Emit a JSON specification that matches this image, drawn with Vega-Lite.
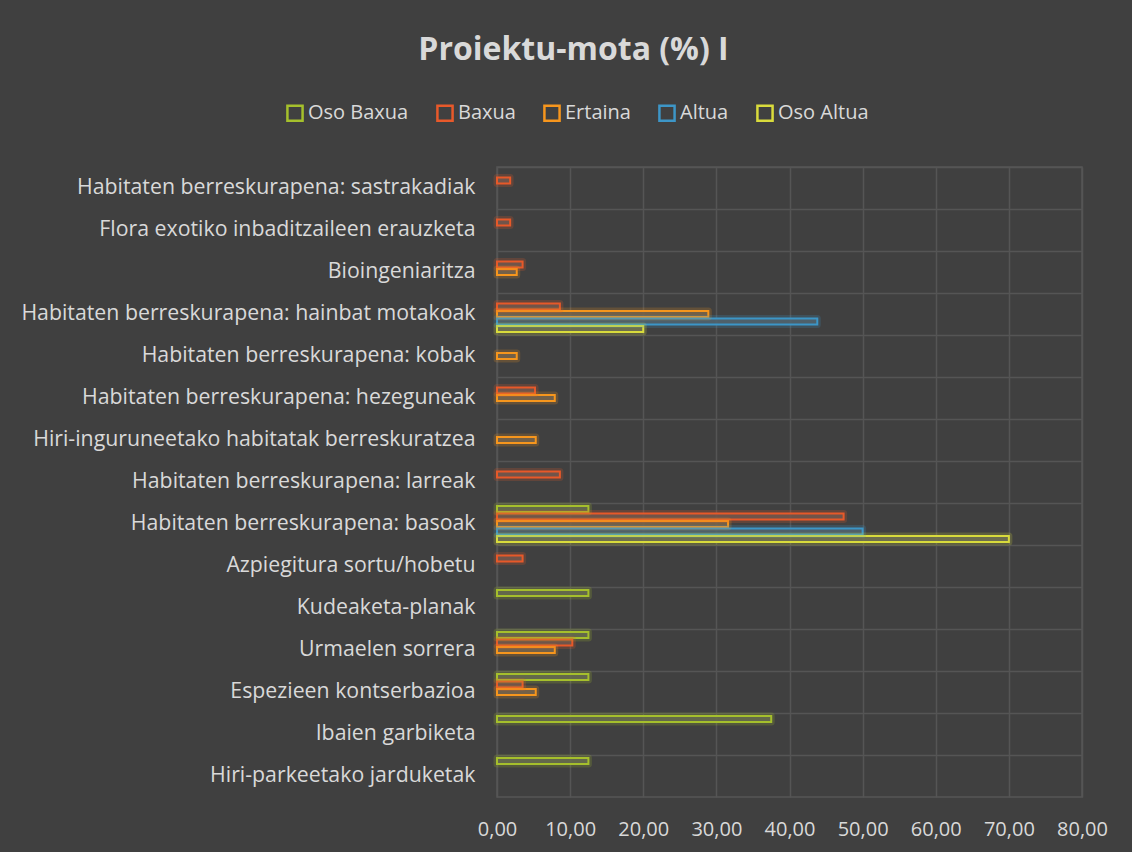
{
  "$schema": "https://vega.github.io/schema/vega-lite/v6.json",
  "width": 585,
  "height": 630,
  "autosize": {"type": "none"},
  "padding": {"left": 497, "top": 167, "right": 50, "bottom": 55},
  "background": "#404040",
  "title": {
    "text": "Proiektu-mota (%) I",
    "fontSize": 32,
    "font": "Open Sans",
    "fontWeight": "bold",
    "color": "#d9d9d9",
    "anchor": "middle",
    "dx": -216,
    "offset": 36
  },
  "config": {
    "locale": {"number": {"decimal": ",", "thousands": ".", "grouping": [3], "currency": ["", " €"]}},
    "view": {"stroke": "#555555", "strokeWidth": 1.5},
    "font": "Open Sans"
  },
  "data": {
    "values": [
      {"kategoria": "Habitaten berreskurapena: sastrakadiak", "maila": "Baxua", "balioa": 1.8},
      {"kategoria": "Flora exotiko inbaditzaileen erauzketa", "maila": "Baxua", "balioa": 1.8},
      {"kategoria": "Bioingeniaritza", "maila": "Baxua", "balioa": 3.5},
      {"kategoria": "Bioingeniaritza", "maila": "Ertaina", "balioa": 2.7},
      {"kategoria": "Habitaten berreskurapena: hainbat motakoak", "maila": "Baxua", "balioa": 8.6},
      {"kategoria": "Habitaten berreskurapena: hainbat motakoak", "maila": "Ertaina", "balioa": 28.9},
      {"kategoria": "Habitaten berreskurapena: hainbat motakoak", "maila": "Altua", "balioa": 43.8},
      {"kategoria": "Habitaten berreskurapena: hainbat motakoak", "maila": "Oso Altua", "balioa": 20.0},
      {"kategoria": "Habitaten berreskurapena: kobak", "maila": "Ertaina", "balioa": 2.7},
      {"kategoria": "Habitaten berreskurapena: hezeguneak", "maila": "Baxua", "balioa": 5.2},
      {"kategoria": "Habitaten berreskurapena: hezeguneak", "maila": "Ertaina", "balioa": 7.9},
      {"kategoria": "Hiri-inguruneetako habitatak berreskuratzea", "maila": "Ertaina", "balioa": 5.3},
      {"kategoria": "Habitaten berreskurapena: larreak", "maila": "Baxua", "balioa": 8.6},
      {"kategoria": "Habitaten berreskurapena: basoak", "maila": "Oso Baxua", "balioa": 12.5},
      {"kategoria": "Habitaten berreskurapena: basoak", "maila": "Baxua", "balioa": 47.4},
      {"kategoria": "Habitaten berreskurapena: basoak", "maila": "Ertaina", "balioa": 31.6},
      {"kategoria": "Habitaten berreskurapena: basoak", "maila": "Altua", "balioa": 50.0},
      {"kategoria": "Habitaten berreskurapena: basoak", "maila": "Oso Altua", "balioa": 70.0},
      {"kategoria": "Azpiegitura sortu/hobetu", "maila": "Baxua", "balioa": 3.5},
      {"kategoria": "Kudeaketa-planak", "maila": "Oso Baxua", "balioa": 12.5},
      {"kategoria": "Urmaelen sorrera", "maila": "Oso Baxua", "balioa": 12.5},
      {"kategoria": "Urmaelen sorrera", "maila": "Baxua", "balioa": 10.3},
      {"kategoria": "Urmaelen sorrera", "maila": "Ertaina", "balioa": 7.9},
      {"kategoria": "Espezieen kontserbazioa", "maila": "Oso Baxua", "balioa": 12.5},
      {"kategoria": "Espezieen kontserbazioa", "maila": "Baxua", "balioa": 3.5},
      {"kategoria": "Espezieen kontserbazioa", "maila": "Ertaina", "balioa": 5.3},
      {"kategoria": "Ibaien garbiketa", "maila": "Oso Baxua", "balioa": 37.5},
      {"kategoria": "Hiri-parkeetako jarduketak", "maila": "Oso Baxua", "balioa": 12.5}
    ]
  },
  "encoding": {
    "y": {
      "field": "kategoria",
      "type": "nominal",
      "title": null,
      "scale": {
        "domain": [
          "Habitaten berreskurapena: sastrakadiak",
          "Flora exotiko inbaditzaileen erauzketa",
          "Bioingeniaritza",
          "Habitaten berreskurapena: hainbat motakoak",
          "Habitaten berreskurapena: kobak",
          "Habitaten berreskurapena: hezeguneak",
          "Hiri-inguruneetako habitatak berreskuratzea",
          "Habitaten berreskurapena: larreak",
          "Habitaten berreskurapena: basoak",
          "Azpiegitura sortu/hobetu",
          "Kudeaketa-planak",
          "Urmaelen sorrera",
          "Espezieen kontserbazioa",
          "Ibaien garbiketa",
          "Hiri-parkeetako jarduketak"
        ],
        "paddingInner": 0,
        "paddingOuter": 0
      },
      "axis": {
        "domain": false,
        "ticks": false,
        "grid": true,
        "bandPosition": 0,
        "gridColor": "#555555",
        "gridWidth": 1.5,
        "labelColor": "#d9d9d9",
        "labelFontSize": 21.3,
        "labelPadding": 22,
        "labelLimit": 500
      }
    },
    "yOffset": {
      "field": "maila",
      "type": "nominal",
      "scale": {
        "domain": ["Oso Baxua", "Baxua", "Ertaina", "Altua", "Oso Altua"],
        "paddingInner": 0.2,
        "paddingOuter": 0.4
      }
    },
    "x": {
      "field": "balioa",
      "type": "quantitative",
      "title": null,
      "scale": {"domain": [0, 80], "nice": false},
      "axis": {
        "values": [0, 10, 20, 30, 40, 50, 60, 70, 80],
        "format": ".2f",
        "domain": false,
        "ticks": false,
        "grid": true,
        "gridColor": "#555555",
        "gridWidth": 1.5,
        "labelColor": "#d9d9d9",
        "labelFontSize": 20,
        "labelPadding": 22,
        "labelFlush": false,
        "labelOverlap": false
      }
    }
  },
  "layer": [
    {
      "mark": {"type": "bar", "fill": "#555555", "fillOpacity": 0.9}
    },
    {
      "mark": {"type": "bar", "filled": false, "strokeWidth": 2, "strokeOpacity": 1},
      "encoding": {
        "color": {
          "field": "maila",
          "type": "nominal",
          "title": null,
          "scale": {
            "domain": ["Oso Baxua", "Baxua", "Ertaina", "Altua", "Oso Altua"],
            "range": ["#a5c02c", "#e8592a", "#f7961d", "#3d96c7", "#d9db3c"]
          },
          "legend": {
            "orient": "none",
            "direction": "horizontal",
            "legendX": -212,
            "legendY": -64,
            "symbolType": "square",
            "symbolSize": 230,
            "symbolStrokeWidth": 2.5,
            "labelColor": "#d9d9d9",
            "labelFontSize": 20,
            "labelOffset": 3,
            "columnPadding": 23
          }
        }
      }
    },
    {
      "mark": {"type": "bar", "filled": false, "strokeWidth": 7, "strokeOpacity": 0.2, "strokeJoin": "round"},
      "encoding": {
        "color": {"field": "maila", "type": "nominal"}
      }
    }
  ]
}
